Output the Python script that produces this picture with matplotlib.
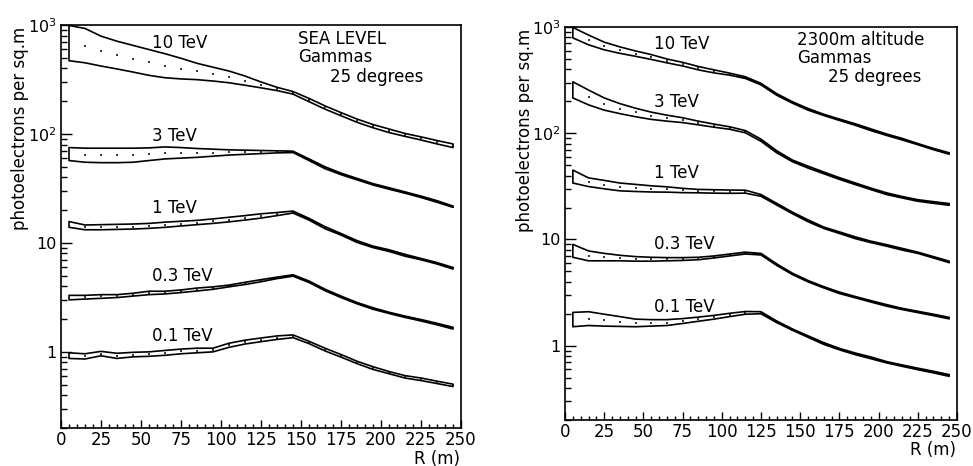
import numpy as np
import matplotlib
matplotlib.use("Agg")
import matplotlib.pyplot as plt
from matplotlib.ticker import MultipleLocator, LogLocator, FixedLocator, FixedFormatter, NullFormatter

plt.rcParams['font.family'] = ['DejaVu Sans']
plt.rcParams['mathtext.fontset'] = 'dejavusans'

# core distance (m), centres of 10 m bins
R = [5, 15, 25, 35, 45, 55, 65, 75, 85, 95, 105, 115, 125,
     135, 145, 155, 165, 175, 185, 195, 205, 215, 225, 235, 245]

# ---- sea level: upper / lower edges of the photoelectron density band ----
SEA_10_HI = [990, 930, 790, 710, 650, 595, 545, 495, 445, 410, 378, 340, 300,
             268, 245, 212, 181, 157, 137, 122, 111, 101, 94, 87, 81]
SEA_10_LO = [470, 450, 420, 395, 370, 345, 328, 320, 315, 306, 295, 280, 265,
             250, 232, 198, 169, 147, 128, 114, 103, 95, 88, 81, 75]
SEA_3_HI = [75, 74, 74, 74, 74, 74.5, 76, 75, 73.5, 72.5, 71.5, 71, 70.5,
            70, 69.5, 59, 50, 43.7, 39.1, 35, 32.1, 29.4, 26.9, 24.4, 21.8]
SEA_3_LO = [57, 55, 54.5, 54.5, 55, 57, 59, 60, 61, 62.5, 64, 65, 66,
            67, 67.5, 57, 48, 42.3, 37.9, 34, 31.1, 28.6, 26.1, 23.6, 21.2]
SEA_1_HI = [15.7, 14.6, 14.7, 14.8, 14.9, 15.1, 15.5, 15.8, 16.1, 16.6, 17.2, 17.8, 18.5,
            19.0, 19.6, 16.8, 14.1, 12.2, 10.5, 9.35, 8.65, 7.85, 7.2, 6.6, 5.95]
SEA_1_LO = [13.9, 13.2, 13.2, 13.3, 13.4, 13.6, 13.9, 14.3, 14.7, 15.1, 15.6, 16.2, 16.9,
            17.8, 18.8, 16.2, 13.5, 11.8, 10.1, 9.05, 8.35, 7.55, 7.0, 6.4, 5.75]
SEA_03_HI = [3.3, 3.3, 3.35, 3.35, 3.45, 3.6, 3.6, 3.7, 3.85, 3.95, 4.1, 4.35, 4.6,
             4.85, 5.1, 4.47, 3.76, 3.25, 2.84, 2.54, 2.31, 2.13, 1.98, 1.83, 1.68]
SEA_03_LO = [3.0, 3.05, 3.1, 3.15, 3.25, 3.35, 3.4, 3.5, 3.62, 3.75, 3.95, 4.15, 4.4,
             4.7, 4.95, 4.33, 3.64, 3.15, 2.76, 2.46, 2.25, 2.07, 1.92, 1.77, 1.62]
SEA_01_HI = [0.98, 0.96, 1.01, 0.97, 0.99, 1.0, 1.03, 1.06, 1.08, 1.08, 1.2, 1.28, 1.34,
             1.4, 1.43, 1.25, 1.08, 0.945, 0.82, 0.73, 0.66, 0.605, 0.575, 0.538, 0.505]
SEA_01_LO = [0.87, 0.86, 0.92, 0.87, 0.9, 0.91, 0.93, 0.96, 0.98, 1.0, 1.1, 1.18, 1.24,
             1.3, 1.35, 1.19, 1.02, 0.895, 0.78, 0.69, 0.63, 0.575, 0.545, 0.512, 0.48]

# ---- 2300 m altitude ----
ALT_10_HI = [990, 840, 720, 650, 595, 550, 500, 465, 425, 395, 368, 340, 295,
             236, 198, 171, 151, 136, 123, 110, 98.5, 89.5, 80, 72, 65.5]
ALT_10_LO = [790, 680, 610, 565, 530, 495, 460, 430, 395, 370, 352, 328, 285,
             228, 192, 165, 147, 132, 119, 106, 95.5, 86.5, 78, 70, 63.5]
ALT_3_HI = [305, 255, 215, 190, 172, 158, 148, 140, 130, 122, 115, 106, 88,
            68.5, 56, 49, 43.2, 38.2, 34.1, 30.5, 27.5, 25.4, 23.7, 22.7, 21.8]
ALT_3_LO = [215, 185, 165, 153, 143, 135, 130, 126, 120, 114, 109, 101, 84,
            65.5, 54, 47, 41.6, 36.8, 32.9, 29.5, 26.5, 24.6, 22.9, 21.9, 21.0]
ALT_1_HI = [45, 38, 36, 34, 33, 32, 31.3, 30.3, 29.6, 29.4, 29.2, 29.1, 26.5,
            21.9, 18.1, 15.3, 13.1, 11.8, 10.6, 9.65, 8.95, 8.25, 7.6, 6.9, 6.25]
ALT_1_LO = [34, 31.5, 30, 28.7, 28.3, 28, 27.9, 27.6, 27.5, 27.3, 27.2, 27.3, 25.5,
            21.1, 17.5, 14.7, 12.7, 11.4, 10.2, 9.35, 8.65, 7.95, 7.4, 6.7, 6.05]
ALT_03_HI = [9.0, 7.8, 7.4, 7.1, 6.9, 6.8, 6.75, 6.75, 6.8, 7.0, 7.3, 7.6, 7.4,
             5.9, 4.82, 4.11, 3.6, 3.2, 2.91, 2.66, 2.44, 2.25, 2.11, 1.98, 1.85]
ALT_03_LO = [6.8, 6.3, 6.3, 6.3, 6.25, 6.25, 6.3, 6.35, 6.45, 6.7, 7.0, 7.3, 7.15,
             5.7, 4.68, 3.99, 3.5, 3.1, 2.83, 2.58, 2.36, 2.19, 2.05, 1.92, 1.79]
ALT_01_HI = [2.06, 2.09, 1.98, 1.88, 1.78, 1.76, 1.76, 1.8, 1.86, 1.93, 2.02, 2.1, 2.09,
             1.71, 1.44, 1.24, 1.07, 0.945, 0.855, 0.785, 0.71, 0.66, 0.615, 0.575, 0.535]
ALT_01_LO = [1.51, 1.55, 1.53, 1.52, 1.51, 1.53, 1.55, 1.62, 1.70, 1.78, 1.88, 1.98, 2.0,
             1.65, 1.40, 1.20, 1.03, 0.915, 0.825, 0.755, 0.69, 0.64, 0.595, 0.555, 0.515]

ENERGY_LABELS = ["10 TeV", "3 TeV", "1 TeV", "0.3 TeV", "0.1 TeV"]
SEA_LABEL_Y = [690, 95, 20.8, 4.97, 1.41]
ALT_LABEL_Y = [692, 196, 41.8, 9.0, 2.34]
LABEL_R = 57

YTICKS = [1, 10, 100, 1000]
YTICK_LABELS = ["1", "10", r"$10^2$", r"$10^3$"]
XTICKS = [0, 25, 50, 75, 100, 125, 150, 175, 200, 225, 250]

fig = plt.figure(figsize=(9.73, 4.66), dpi=100)
ax1 = fig.add_axes([61 / 973, 38 / 466, 400 / 973, 403 / 466])
ax2 = fig.add_axes([565 / 973, 46 / 466, 392 / 973, 393 / 466])


def draw_band(ax, hi, lo):
    xs = R + R[::-1]
    ys = hi + lo[::-1]
    ax.fill(xs, ys, facecolor="white", edgecolor="black", lw=1.2,
            joinstyle="round", zorder=3)
    mids = np.sqrt(np.array(hi[1:]) * np.array(lo[1:]))
    ax.plot(R[1:], mids, ls="none", marker="|", ms=1.8, mew=1.1,
            color="black", zorder=4)


def style_axes(ax, header):
    ax.set_yscale("log")
    ax.set_xlim(0, 250)
    ax.set_ylim(0.2, 1000)
    ax.xaxis.set_major_locator(FixedLocator(XTICKS))
    ax.xaxis.set_minor_locator(MultipleLocator(5))
    ax.yaxis.set_major_locator(FixedLocator(YTICKS))
    ax.yaxis.set_major_formatter(FixedFormatter(YTICK_LABELS))
    ax.yaxis.set_minor_locator(LogLocator(base=10, subs=np.arange(2, 10)))
    ax.yaxis.set_minor_formatter(NullFormatter())
    ax.tick_params(which="both", direction="in", top=False, right=False,
                   width=1.0, labelsize=12, colors="black")
    ax.tick_params(axis="x", which="major", length=6, pad=2)
    ax.tick_params(axis="x", which="minor", length=3)
    ax.tick_params(axis="y", which="major", length=8, pad=3, labelsize=11.5)
    ax.tick_params(axis="y", which="minor", length=4)
    for sp in ax.spines.values():
        sp.set_linewidth(1.2)
    ax.text(0.997, -0.076, "R (m)", transform=ax.transAxes, ha="right",
            va="center", fontsize=12)
    ax.text(-0.102, 0.995, "photoelectrons per sq.m", transform=ax.transAxes,
            rotation=90, ha="center", va="top", fontsize=12)
    ax.text(0.592, 0.966, header, transform=ax.transAxes, ha="left",
            va="center", fontsize=12)
    ax.text(0.592, 0.920, "Gammas", transform=ax.transAxes, ha="left",
            va="center", fontsize=12)
    ax.text(0.672, 0.872, "25 degrees", transform=ax.transAxes, ha="left",
            va="center", fontsize=12)


sea = [(SEA_10_HI, SEA_10_LO), (SEA_3_HI, SEA_3_LO), (SEA_1_HI, SEA_1_LO),
       (SEA_03_HI, SEA_03_LO), (SEA_01_HI, SEA_01_LO)]
alt = [(ALT_10_HI, ALT_10_LO), (ALT_3_HI, ALT_3_LO), (ALT_1_HI, ALT_1_LO),
       (ALT_03_HI, ALT_03_LO), (ALT_01_HI, ALT_01_LO)]

for ax, bands, label_y, header in [(ax1, sea, SEA_LABEL_Y, "SEA LEVEL"),
                                   (ax2, alt, ALT_LABEL_Y, "2300m altitude")]:
    for (hi, lo), lab, ly in zip(bands, ENERGY_LABELS, label_y):
        draw_band(ax, hi, lo)
        ax.text(LABEL_R, ly, lab, ha="left", va="center", fontsize=12, zorder=5)
    style_axes(ax, header)

fig.savefig("out.png", dpi=100)
